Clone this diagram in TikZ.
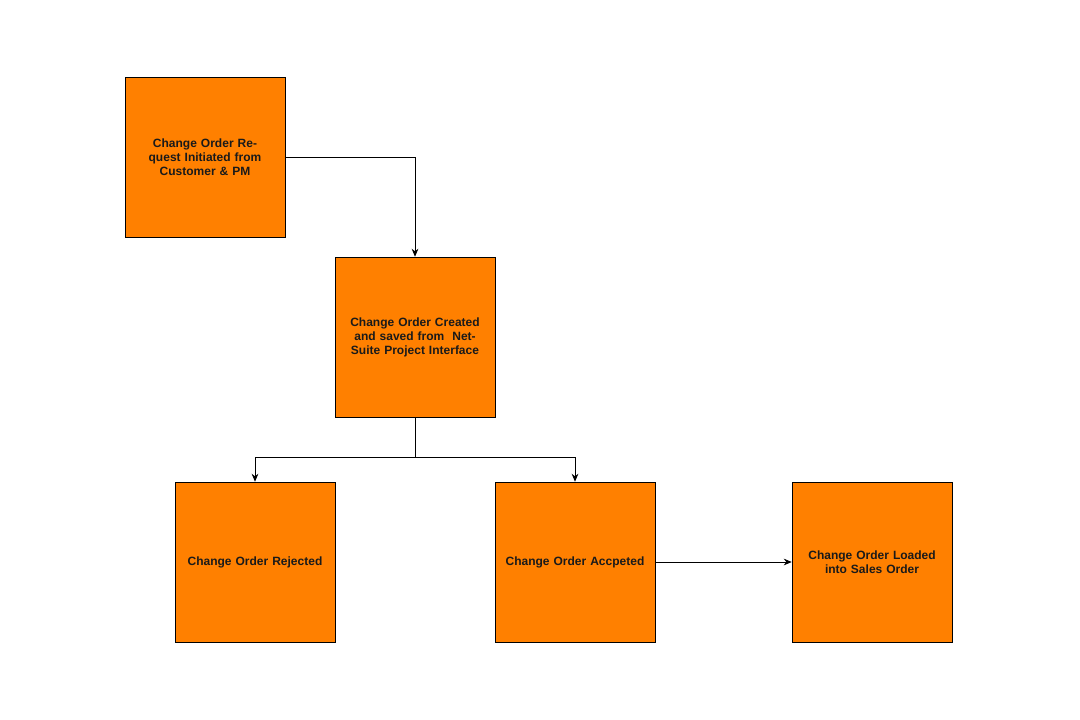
\documentclass[tikz,border=0pt]{standalone}
\usepackage{fontspec}
\setmainfont{Liberation Sans}
\usetikzlibrary{arrows.meta}
\definecolor{boxfill}{HTML}{FF8000}
\definecolor{txt}{HTML}{1A1A1A}
\begin{document}
\begin{tikzpicture}[x=0.75pt,y=-0.75pt,
  box/.style={draw=black,fill=boxfill,minimum width=120pt,minimum height=120pt,inner sep=0pt,
    text width=114pt,align=center,font=\fontsize{9}{10.5}\selectfont\bfseries,text=txt},
  conn/.style={draw=black,line width=0.6pt,-{Stealth[length=6pt,width=5pt]}}]
\useasboundingbox (0,0) rectangle (1080,720);
\node[box] (a) at (205,157) {Change Order Request Initiated from Customer \& PM};
\node[box] (b) at (415,337) {Change Order Created and saved from \ NetSuite Project Interface};
\node[box] (c) at (255,562) {Change Order Rejected};
\node[box] (d) at (575,562) {Change Order Accpeted};
\node[box] (e) at (872,562) {Change Order Loaded into Sales Order};
\coordinate (j) at (415,457);
\draw[conn] (a.east) -| (b.north);
\draw[line width=0.6pt] (b.south) -- (j);
\draw[conn] (j) -| (c.north);
\draw[conn] (j) -| (d.north);
\draw[conn] (d.east) -- (e.west);
\end{tikzpicture}
\end{document}
